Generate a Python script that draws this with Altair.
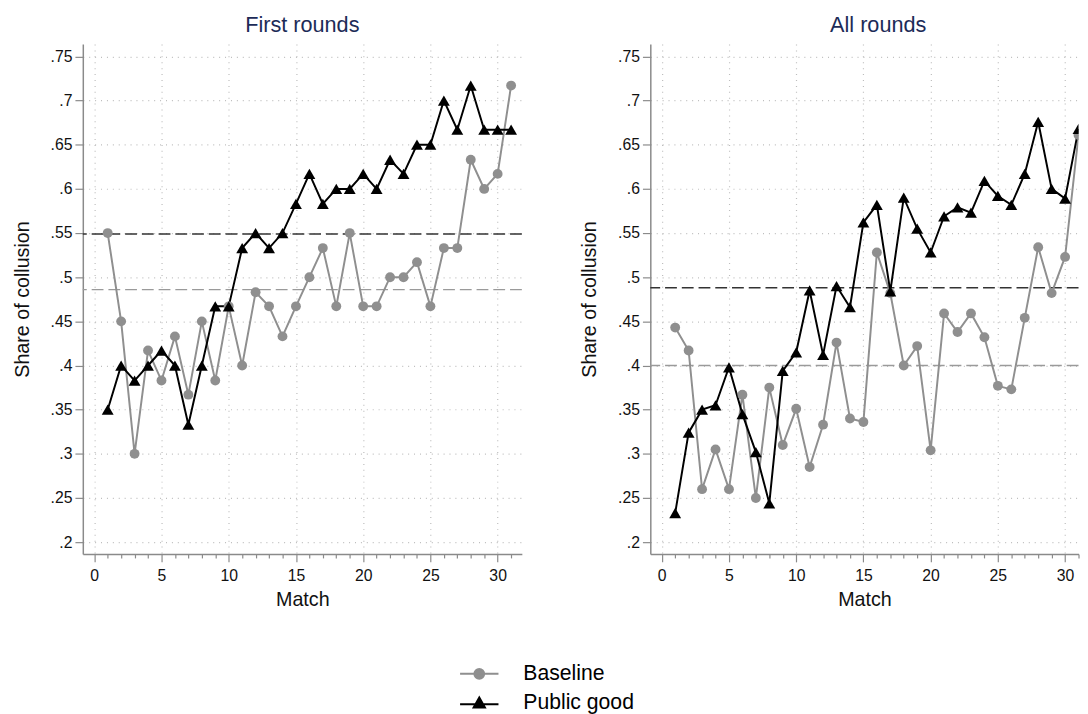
import altair as alt
import pandas as pd

# ---------------- data ----------------
series_names = ["Baseline", "Public good"]
match = list(range(1, 32))

first_baseline = [.55, .45, .30, .417, .383, .433, .367, .45, .383, .467, .40, .483, .467, .433, .467,
                  .50, .533, .467, .55, .467, .467, .50, .50, .517, .467, .533, .533, .633, .60, .617, .717]
first_public = [.35, .40, .383, .40, .417, .40, .333, .40, .467, .467, .533, .55, .533, .55, .583,
                .617, .583, .60, .60, .617, .60, .633, .617, .65, .65, .70, .667, .717, .667, .667, .667]
all_baseline = [.443, .417, .26, .305, .26, .367, .25, .375, .31, .351, .285, .333, .426, .34, .336,
                .528, .482, .40, .422, .304, .459, .438, .459, .432, .377, .373, .454, .534, .482, .523, .661]
all_public = [.233, .324, .35, .355, .398, .345, .302, .244, .394, .415, .485, .412, .49, .466, .562,
              .582, .484, .59, .555, .528, .569, .579, .573, .609, .592, .582, .617, .676, .60, .589, .668]

first_means = [.486, .549]   # Baseline, Public good
all_means = [.40, .488]

panel_titles = ["First rounds", "All rounds"]
y_ticks = [.2, .25, .3, .35, .4, .45, .5, .55, .6, .65, .7, .75]
x_ticks = list(range(0, 32))

# ---------------- style ----------------
FONT = "Liberation Sans"
GRAY = "#8f8f8f"
BLACK = "#000000"
AXIS_GRAY = "#8a8a8a"
TITLE_COLOR = "#1c2b57"

cscale = alt.Scale(domain=series_names, range=[GRAY, BLACK])
ydom = alt.Scale(domain=[0.1866, 0.764], nice=False, zero=False)

PATH_CIRCLE = "M-3.9,0H3.9M-1,0A1,1,0,1,0,1,0A1,1,0,1,0,-1,0Z"
PATH_TRI = "M-3.9,0.3H3.9M0,-1.1L1.15,0.95L-1.15,0.95Z"


def make_df(b, p):
    rows = []
    for m, v in zip(match, b):
        rows.append({"match": m, "share": v, "series": series_names[0]})
    for m, v in zip(match, p):
        rows.append({"match": m, "share": v, "series": series_names[1]})
    return pd.DataFrame(rows)


def make_ref(means):
    return pd.DataFrame({"series": series_names, "share": means})


xaxis = alt.Axis(
    title="Match", values=x_ticks,
    labelExpr="datum.value % 5 === 0 ? datum.label : ''",
    labelOverlap=False, labelFlush=False,
    tickSize={"condition": {"test": "datum.value % 5 === 0", "value": 8}, "value": 4},
    gridOpacity={"condition": {"test": "datum.value % 5 === 0", "value": 1}, "value": 0},
    grid=True, labelPadding=6, titlePadding=6,
)
yaxis = alt.Axis(
    title="Share of collusion", values=y_ticks,
    labelExpr="substring(format(datum.value, '.2~f'), 1)",
    grid=True, tickSize=8, labelPadding=3, titlePadding=18,
)


def panel(b, p, means, title, xmax, width, dx, legend):
    df = make_df(b, p)
    ref = make_ref(means)
    xenc = alt.X("match:Q", scale=alt.Scale(domain=[-0.85, xmax], nice=False, zero=False), axis=xaxis)
    yenc = alt.Y("share:Q", scale=ydom, axis=yaxis)
    is_b = alt.datum.series == series_names[0]
    is_p = alt.datum.series == series_names[1]

    rule_b = alt.Chart(ref).transform_filter(is_b).mark_rule(
        strokeWidth=1.4, strokeDash=[12, 5], color="#9a9a9a").encode(y=yenc)
    rule_p = alt.Chart(ref).transform_filter(is_p).mark_rule(
        strokeWidth=1.4, strokeDash=[12, 5], color="#333333").encode(y=yenc)
    line_b = alt.Chart(df).transform_filter(is_b).mark_line(
        strokeWidth=2, clip=True, color=GRAY).encode(x=xenc, y=yenc)
    line_p = alt.Chart(df).transform_filter(is_p).mark_line(
        strokeWidth=2, clip=True, color=BLACK).encode(x=xenc, y=yenc)
    circles = alt.Chart(df).transform_filter(is_b).mark_point(
        shape="circle", filled=True, opacity=1, size=100, clip=True, color=GRAY).encode(x=xenc, y=yenc)
    tris = alt.Chart(df).transform_filter(is_p).mark_point(
        shape="triangle-up", filled=True, opacity=1, size=145, clip=True, color=BLACK).encode(x=xenc, y=yenc)
    layers = [rule_b, rule_p, line_b, line_p, circles, tris]
    if legend:
        leg = alt.Legend(
            title=None, orient="none", legendX=392, legendY=629, direction="vertical",
            symbolSize=100, symbolStrokeWidth=2, symbolOpacity=1,
            labelFont=FONT, labelFontSize=21.5, labelOffset=34, rowPadding=6.5,
            labelColor="#000000", padding=0,
        )
        lg = alt.Chart(df).mark_point(filled=True, opacity=0, strokeWidth=2, clip=True).encode(
            x=xenc, y=yenc,
            fill=alt.Fill("series:N", scale=cscale, legend=leg),
            stroke=alt.Stroke("series:N", scale=cscale, legend=leg),
            shape=alt.Shape("series:N", scale=alt.Scale(domain=series_names, range=[PATH_CIRCLE, PATH_TRI]), legend=leg),
        )
        layers.append(lg)
    return alt.layer(*layers).properties(
        width=width, height=518,
        title=alt.TitleParams(title, fontSize=22, font=FONT, fontWeight="normal", color=TITLE_COLOR, offset=7, dx=dx),
    )


left = panel(first_baseline, first_public, first_means, panel_titles[0], 31.8, 446, 0, True)
right = panel(all_baseline, all_public, all_means, panel_titles[1], 31.0, 435, 14, False)

chart = alt.hconcat(left, right, spacing=130.5, bounds="flush").properties(
    padding={"left": 4, "top": 0, "right": 0, "bottom": 0}
).configure_view(stroke="transparent").configure_axis(
    labelFont=FONT, labelFontSize=16, labelColor="#111111",
    titleFont=FONT, titleFontSize=20, titleFontWeight="normal", titleColor="#111111",
    domainColor=AXIS_GRAY, domainWidth=1.5, tickColor=AXIS_GRAY, tickWidth=1.2,
    gridColor="#bdbdbd", gridDash=[1, 5], gridWidth=1.2,
)

chart.save("out.html", embed_options={"renderer": "svg", "actions": False})
